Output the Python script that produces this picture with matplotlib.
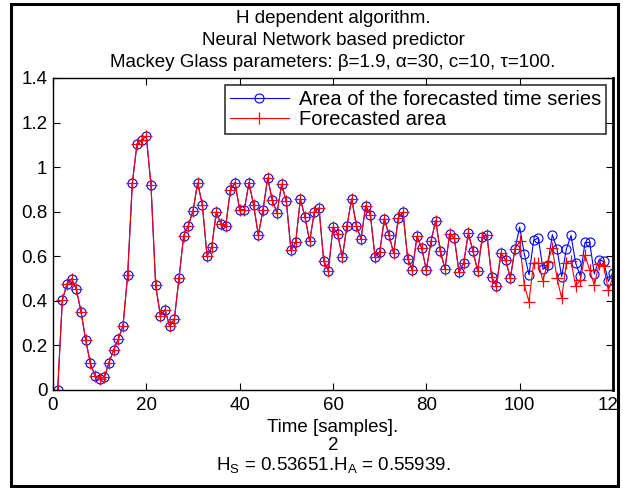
import matplotlib
matplotlib.use('Agg')
import matplotlib.pyplot as plt
import matplotlib.patches as mpatches
from matplotlib.ticker import FormatStrFormatter
import numpy as np

plt.rcParams['font.family'] = ['Liberation Sans', 'DejaVu Sans']

# area of the forecasted time series (blue), samples 1..120
area_series = [
    0.000, 0.404, 0.476, 0.499, 0.452, 0.352, 0.225, 0.120, 0.063, 0.050,
    0.057, 0.123, 0.180, 0.228, 0.289, 0.517, 0.929, 1.104, 1.124, 1.138,
    0.918, 0.469, 0.334, 0.360, 0.285, 0.318, 0.502, 0.692, 0.738, 0.804,
    0.929, 0.831, 0.602, 0.640, 0.800, 0.745, 0.735, 0.896, 0.931, 0.809,
    0.809, 0.931, 0.828, 0.694, 0.809, 0.951, 0.851, 0.794, 0.924, 0.846,
    0.626, 0.662, 0.857, 0.776, 0.667, 0.800, 0.817, 0.580, 0.536, 0.730,
    0.700, 0.595, 0.738, 0.858, 0.738, 0.677, 0.827, 0.787, 0.599, 0.617,
    0.769, 0.694, 0.614, 0.774, 0.797, 0.589, 0.539, 0.689, 0.637, 0.539,
    0.667, 0.760, 0.622, 0.544, 0.701, 0.682, 0.529, 0.569, 0.704, 0.622,
    0.535, 0.688, 0.694, 0.506, 0.467, 0.614, 0.584, 0.502, 0.634, 0.731,
    0.610, 0.517, 0.671, 0.682, 0.542, 0.559, 0.697, 0.632, 0.509, 0.632,
    0.694, 0.569, 0.512, 0.662, 0.662, 0.521, 0.584, 0.577, 0.487, 0.527,
]

# forecasted area (red): identical up to sample 99, then diverges
forecast_tail = [
    0.667, 0.469, 0.397, 0.571, 0.569, 0.490, 0.576, 0.638, 0.502, 0.412,
    0.569, 0.580, 0.466, 0.494, 0.605, 0.537, 0.470, 0.564, 0.557, 0.447,
    0.509,
]
forecast_area = area_series[:99] + forecast_tail

samples = np.arange(1, len(area_series) + 1)

title_lines = ['H dependent algorithm.',
               'Neural Network based predictor',
               'Mackey Glass parameters: \u03b2=1.9, \u03b1=30, c=10, \u03c4=100.']
xlabel_lines = ['Time [samples].', '2',
                r'H$_\mathregular{S}$ = 0.53651.H$_\mathregular{A}$ = 0.55939.']

FS = 13.5
W, H = 623, 488
fig = plt.figure(figsize=(W / 100, H / 100), dpi=100)
ax = fig.add_axes([53 / W, 1 - 390 / H, 560 / W, 312 / H])

ax.plot(samples, area_series, color='#0000ff', linewidth=0.8, marker='o',
        markersize=6.5, markerfacecolor='none', markeredgecolor='#0000ff',
        markeredgewidth=0.8, label='Area of the forecasted time series')
ax.plot(samples, forecast_area, color='#ff0000', linewidth=0.8, marker='+',
        markersize=8, markeredgewidth=0.9, label='Forecasted area')

ax.set_xlim(0, 120)
ax.set_ylim(0, 1.4)
ax.set_xticks(np.arange(0, 121, 20))
ax.set_yticks(np.arange(0, 1.41, 0.2))
ax.yaxis.set_major_formatter(FormatStrFormatter('%g'))
ax.tick_params(direction='in', top=True, right=True, labelsize=FS,
               length=5, width=0.8)
ax.tick_params(axis='x', pad=5)
ax.tick_params(axis='y', pad=4)
for s in ax.spines.values():
    s.set_linewidth(1.0)
ax.spines['right'].set_linewidth(2.0)

ax.set_xlabel('\n'.join(xlabel_lines), fontsize=FS, labelpad=4,
              linespacing=1.07)
ax.set_title('\n'.join(title_lines), fontsize=FS, linespacing=1.38, pad=8)

leg = ax.legend(loc='upper right', fontsize=14.5, frameon=True, fancybox=False,
                borderpad=0.25, handlelength=2.9, handletextpad=0.5,
                labelspacing=0.05, borderaxespad=0.35)
leg.get_frame().set_edgecolor('black')
leg.get_frame().set_linewidth(1.2)

# white margin on the right and the outer black frame
fig.patches.append(mpatches.Rectangle((619 / W, 0), 4 / W, 1,
                                      transform=fig.transFigure,
                                      facecolor='white', edgecolor='none',
                                      zorder=10))
fig.patches.append(mpatches.Rectangle((11 / W, 2 / H), 607 / W, 482 / H,
                                      transform=fig.transFigure, fill=False,
                                      edgecolor='black', linewidth=2.2,
                                      zorder=11))

fig.savefig('out.png', dpi=100)
